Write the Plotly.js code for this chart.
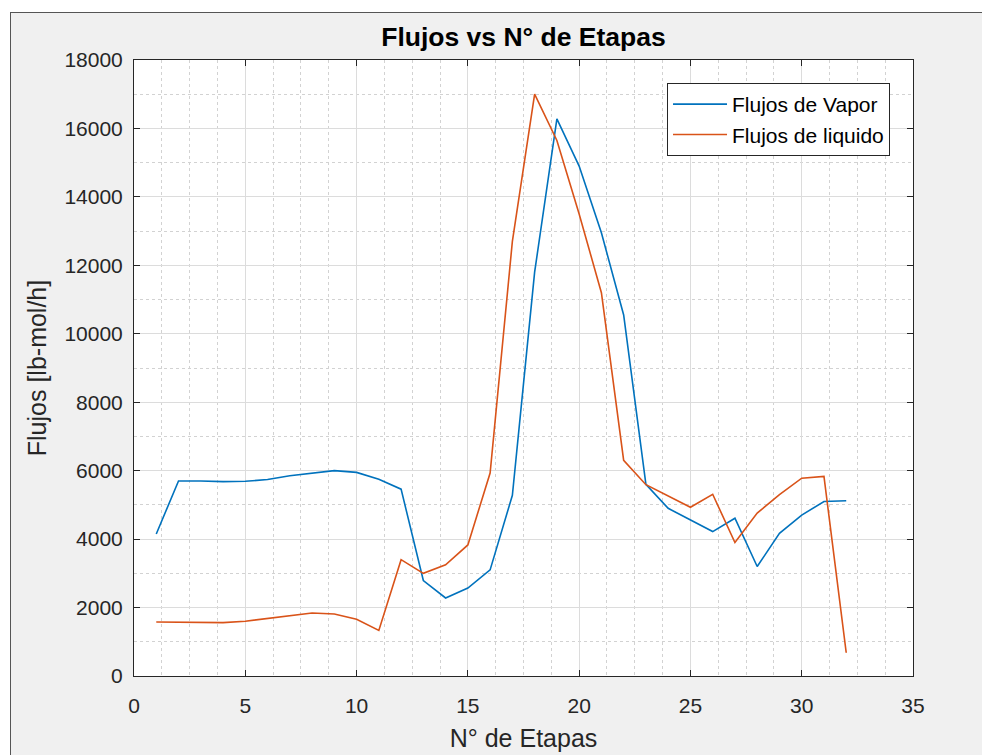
<!DOCTYPE html>
<html>
<head>
<meta charset="utf-8">
<script src="https://cdn.plot.ly/plotly-3.0.1.min.js"></script>
<style>
  html, body { margin: 0; padding: 0; background: #ffffff; width: 982px; height: 755px; overflow: hidden; }
  #frame { position: absolute; left: 10px; top: 12px; width: 972px; height: 743px; background: #f0f0f0; border-left: 1px solid #555; border-top: 1px solid #555; box-sizing: border-box; }
  #chart { position: absolute; left: 0; top: 0; width: 982px; height: 755px; }
</style>
</head>
<body>
<div id="frame"></div>
<div id="chart"></div>
<script>
const etapas = [1,2,3,4,5,6,7,8,9,10,11,12,13,14,15,16,17,18,19,20,21,22,23,24,25,26,27,28,29,30,31,32];
const vapor = [4150,5700,5700,5680,5690,5740,5850,5930,6000,5950,5750,5460,2790,2280,2570,3100,5280,11800,16280,14900,12950,10550,5600,4900,4560,4220,4610,3200,4170,4700,5100,5120];
const liquido = [1580,1580,1560,1560,1600,1680,1760,1840,1810,1660,1330,3400,3000,3250,3830,5930,12700,17000,15650,13500,11200,6300,5590,5250,4930,5310,3900,4760,5300,5780,5830,680];
const xTicks = [0,5,10,15,20,25,30,35];
const yTicks = [0,2000,4000,6000,8000,10000,12000,14000,16000,18000];

const FONT = 'Liberation Sans, Arial, Helvetica, sans-serif';
const axisCommon = {
  showline: true, linecolor: '#262626', linewidth: 1, mirror: 'ticks',
  ticks: 'inside', ticklen: 6, tickwidth: 1, tickcolor: '#262626',
  showgrid: true, gridcolor: '#dcdcdc', gridwidth: 1, zeroline: false,
  tickfont: {family: FONT, size: 21, color: '#262626'},
  fixedrange: true
};

const traces = [
  {x: etapas, y: vapor, type: 'scatter', mode: 'lines', name: 'Flujos de Vapor',
   line: {color: '#0072BD', width: 1.6}, hoverinfo: 'skip'},
  {x: etapas, y: liquido, type: 'scatter', mode: 'lines', name: 'Flujos de liquido',
   line: {color: '#D95319', width: 1.6}, hoverinfo: 'skip'}
];

const layout = {
  width: 982, height: 755,
  margin: {l: 134, r: 69, t: 60, b: 79, pad: 0},
  paper_bgcolor: 'rgba(0,0,0,0)',
  plot_bgcolor: '#ffffff',
  showlegend: true,
  title: {text: '<b>Flujos vs N° de Etapas</b>', font: {family: FONT, size: 26.5, color: '#000000'},
          x: 0.5, xref: 'paper', xanchor: 'center', y: 0.952, yref: 'container', yanchor: 'middle'},
  xaxis: Object.assign({}, axisCommon, {
    range: [0, 35], tickvals: xTicks, ticktext: xTicks.map(String),
    minor: {dtick: 1.25, tick0: 0, showgrid: true, gridcolor: '#d2d2d2', griddash: 'dot', gridwidth: 1, ticks: ''},
    ticklabelstandoff: 11,
    title: {text: 'N° de Etapas', font: {family: FONT, size: 25, color: '#262626'}, standoff: 13}
  }),
  yaxis: Object.assign({}, axisCommon, {
    range: [0, 18000], tickvals: yTicks, ticktext: yTicks.map(String),
    minor: {dtick: 1000, tick0: 0, showgrid: true, gridcolor: '#d2d2d2', griddash: 'dot', gridwidth: 1, ticks: ''},
    ticklabelstandoff: 6,
    title: {text: 'Flujos [lb-mol/h]', font: {family: FONT, size: 25, color: '#262626'}, standoff: 10}
  }),
  legend: {x: 0.9705, xanchor: 'right', y: 0.9627, yanchor: 'top', itemwidth: 54,
           bgcolor: '#ffffff', bordercolor: '#262626', borderwidth: 1,
           font: {family: FONT, size: 21, color: '#000000'}}
};

Plotly.newPlot('chart', traces, layout, {displayModeBar: false, staticPlot: true});
</script>
</body>
</html>
